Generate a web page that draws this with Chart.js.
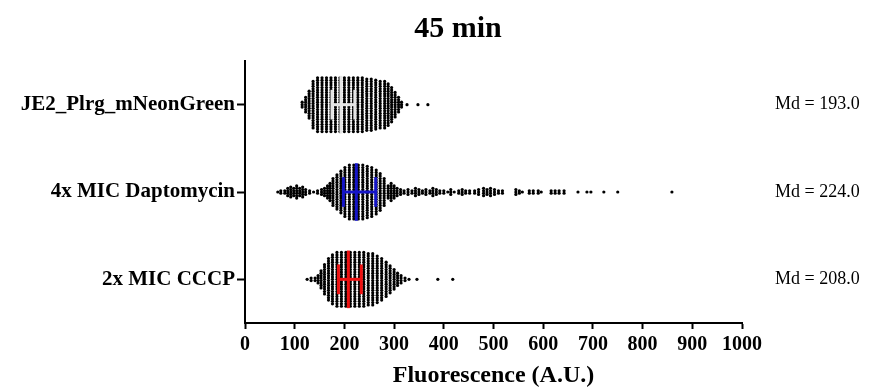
<!DOCTYPE html>
<html>
<head>
<meta charset="utf-8">
<script src="https://cdn.jsdelivr.net/npm/chart.js@4"></script>
<style>
  html, body { margin: 0; padding: 0; background: #fff; }
  #wrap { width: 891px; height: 390px; }
</style>
</head>
<body>
<div id="wrap"><canvas id="swarm"></canvas></div>
<script>
// Groups, top row first
const figTitle = '45 min';
const groupNames = ['JE2_Plrg_mNeonGreen', '4x MIC Daptomycin', '2x MIC CCCP'];
const groupRows = [3, 2, 1];
const medians = [193.0, 224.0, 208.0];
const lowerQuartiles = [175, 198, 188];
const upperQuartiles = [221, 263, 234];
const lineColors = ['#e4e4e4', '#1515c8', '#ee1111'];
const xTicks = [0, 100, 200, 300, 400, 500, 600, 700, 800, 900, 1000];

// Swarm columns: fluorescence value and how many cells are stacked there
const je2Values = [115, 122, 129, 137, 146, 155, 164, 173, 182, 191, 200, 209, 218, 227, 236, 245, 254, 263, 272, 281, 288, 295, 302, 309, 315, 326, 348, 368];
const je2Counts = [3, 7, 12, 20, 23, 23, 23, 23, 23, 23, 23, 23, 23, 23, 23, 22, 22, 21, 20, 20, 18, 15, 11, 7, 3, 1, 1, 1];

const dapValues = [66, 72, 80, 86, 92, 98, 104, 110, 116, 122, 130, 138, 146, 154, 160, 166, 171,
  177, 185, 193, 201, 210, 219, 228, 237, 246, 255, 264, 272, 280,
  288, 294, 300, 306, 313, 320, 328, 336, 343, 350, 357, 364, 372, 378, 385, 392, 400, 408, 414, 421,
  430, 437, 444, 452, 462, 470, 480, 487, 494, 502, 510, 518, 545, 552, 558, 572, 580, 590, 596,
  616, 624, 632, 642, 670, 688, 696, 722, 750, 859];
const dapCounts = [1, 2, 2, 4, 5, 4, 6, 4, 5, 3, 2, 1, 2, 3, 4, 6, 8,
  12, 15, 18, 21, 23, 23, 23, 23, 22, 21, 19, 16, 12,
  6, 8, 6, 4, 3, 2, 3, 2, 4, 3, 2, 3, 2, 4, 3, 2, 2, 1, 3, 1,
  2, 3, 2, 2, 2, 3, 4, 3, 4, 3, 2, 2, 3, 2, 1, 2, 2, 2, 1,
  2, 2, 2, 2, 1, 1, 1, 1, 1, 1];

const cccpValues = [125, 133, 141, 147, 153, 160, 168, 176, 185, 194, 203, 212, 221, 230, 239, 248, 257, 266, 275, 284, 292, 300, 307, 314, 322, 330, 346, 388, 418];
const cccpCounts = [1, 2, 2, 4, 8, 13, 18, 21, 23, 23, 23, 23, 23, 23, 23, 22, 22, 20, 18, 15, 12, 9, 6, 4, 2, 1, 1, 1, 1];

const DOT_STEP = 0.028; // vertical gap between stacked dots, in row units

// stack each column symmetrically around its row
function swarmPoints(values, counts, row) {
    const pts = [];
    values.forEach((v, i) => {
        const n = counts[i];
        for (let k = 0; k < n; k++) {
            pts.push({ x: v, y: row + (k - (n - 1) / 2) * DOT_STEP });
        }
    });
    return pts;
}

const swarms = [
    swarmPoints(je2Values, je2Counts, groupRows[0]),
    swarmPoints(dapValues, dapCounts, groupRows[1]),
    swarmPoints(cccpValues, cccpCounts, groupRows[2])
];

const datasets = [];

// median with interquartile range, drawn over the dots
function segment(points, color) {
    return {
        data: points,
        showLine: true,
        borderColor: color,
        borderWidth: 3,
        pointRadius: 0,
        order: 0
    };
}
groupRows.forEach((row, i) => {
    const c = lineColors[i];
    datasets.push(segment([{ x: medians[i], y: row - 0.33 }, { x: medians[i], y: row + 0.33 }], c));
    datasets.push(segment([{ x: lowerQuartiles[i], y: row - 0.17 }, { x: lowerQuartiles[i], y: row + 0.17 }], c));
    datasets.push(segment([{ x: upperQuartiles[i], y: row - 0.17 }, { x: upperQuartiles[i], y: row + 0.17 }], c));
    datasets.push(segment([{ x: lowerQuartiles[i], y: row }, { x: upperQuartiles[i], y: row }], c));
});

swarms.forEach(pts => {
    datasets.push({
        data: pts,
        pointRadius: 1.6,
        pointBorderWidth: 0,
        pointBackgroundColor: '#000',
        order: 1
    });
});

// title on top and the Md values at the right of each row
const figText = {
    id: 'figText',
    afterDraw(chart) {
        const { ctx, chartArea, scales } = chart;
        ctx.save();
        ctx.fillStyle = '#000';
        ctx.font = 'bold 30px "Liberation Serif"';
        ctx.textAlign = 'center';
        ctx.textBaseline = 'alphabetic';
        ctx.fillText(figTitle, 458, 37);
        ctx.font = '18px "Liberation Serif"';
        ctx.textAlign = 'left';
        ctx.textBaseline = 'middle';
        groupRows.forEach((row, i) => {
            ctx.fillText('Md = ' + medians[i].toFixed(1), chartArea.right + 33, scales.y.getPixelForValue(row));
        });
        ctx.restore();
    }
};

const serif = 'Liberation Serif';

new Chart(document.getElementById('swarm'), {
    type: 'scatter',
    data: { datasets: datasets },
    options: {
        responsive: true,
        maintainAspectRatio: false,
        animation: false,
        events: [],
        layout: { padding: { top: 61, right: 149, bottom: 0, left: 0 } },
        plugins: {
            legend: { display: false },
            tooltip: { enabled: false }
        },
        scales: {
            x: {
                type: 'linear',
                min: 0,
                max: 1000,
                afterBuildTicks: s => { s.ticks = xTicks.map(v => ({ value: v })); },
                afterFit: s => { s.height = 67; },
                ticks: {
                    color: '#000',
                    padding: 4,
                    maxRotation: 0,
                    autoSkip: false,
                    callback: v => String(v),
                    font: { family: serif, size: 20, weight: 'bold' }
                },
                grid: { drawOnChartArea: false, tickLength: 6, tickColor: '#000', tickWidth: 2 },
                border: { color: '#000', width: 2 },
                title: {
                    display: true,
                    text: 'Fluorescence (A.U.)',
                    color: '#000',
                    padding: 0,
                    font: { family: serif, size: 24, weight: 'bold' }
                }
            },
            y: {
                type: 'linear',
                min: 0.5,
                max: 3.5,
                afterBuildTicks: s => { s.ticks = groupRows.map(v => ({ value: v })); },
                afterFit: s => { s.width = 245; },
                ticks: {
                    color: '#000',
                    padding: 2,
                    callback: v => groupNames[groupRows.indexOf(v)],
                    font: { family: serif, size: 21, weight: 'bold' }
                },
                grid: { drawOnChartArea: false, tickLength: 8, tickColor: '#000', tickWidth: 2 },
                border: { color: '#000', width: 2 }
            }
        }
    },
    plugins: [figText]
});
</script>
</body>
</html>
